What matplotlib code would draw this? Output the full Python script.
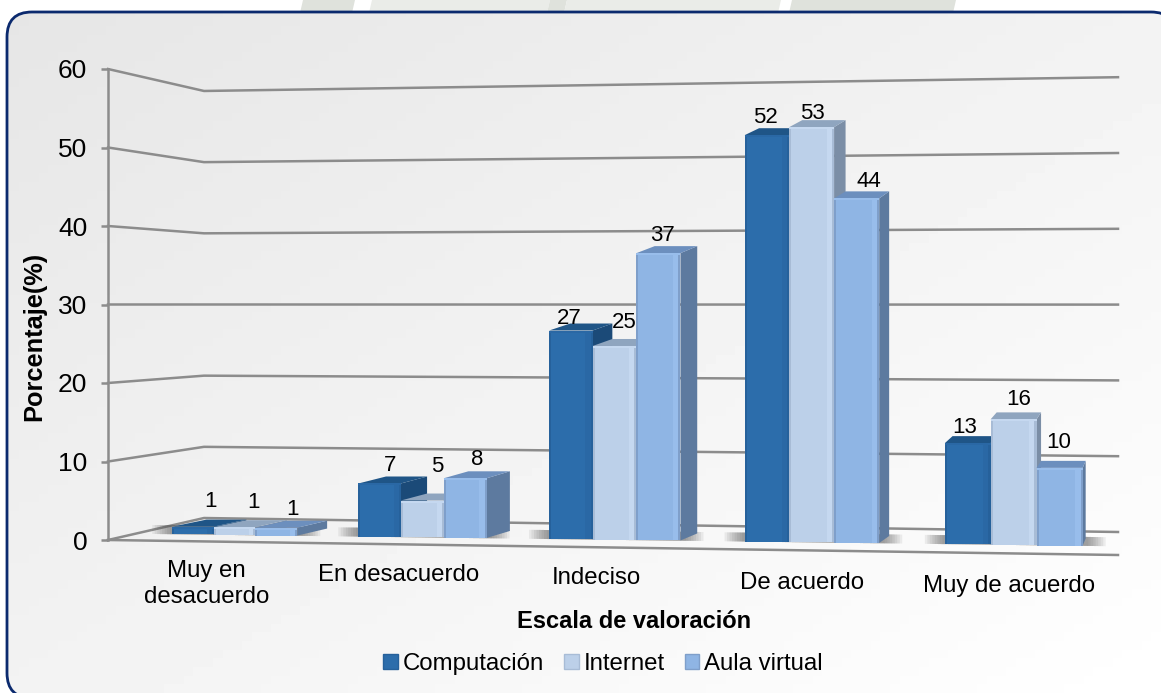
# -*- coding: utf-8 -*-
"""Barras con aspecto 3D: escala de valoracion por computacion, internet y aula virtual."""
import numpy as np
import matplotlib
matplotlib.use("Agg")
import matplotlib.pyplot as plt
from matplotlib.patches import PathPatch, Patch
from matplotlib.path import Path
from matplotlib.transforms import ScaledTranslation

plt.rcParams["font.family"] = ["Liberation Sans", "DejaVu Sans"]

categorias = ["Muy en\ndesacuerdo", "En desacuerdo", "Indeciso", "De acuerdo", "Muy de acuerdo"]
series = ["Computación", "Internet", "Aula virtual"]
computacion = [1, 6.8, 26.6, 51.8, 12.9]
internet = [1, 4.7, 24.7, 52.9, 16.0]
aula_virtual = [1, 7.6, 36.6, 43.9, 9.9]
yticks = [0, 10, 20, 30, 40, 50, 60]

# desplazamiento de cada etiqueta de valor respecto a la barra (px)
off_x = [[18, 19, 16], [11, 15, 12], [-2, 10, 4], [-1, 1, 12], [-3, 5, -1]]
off_y = [[-25, -25, -18], [-18, -34, -19], [-12, -23, -18], [-18, -14, -17], [-16, -20, -25]]
# posicion de las etiquetas de categoria (px)
cat_dx = [-28, -23, -18, -10, -4]
cat_cy = [584, 575, 578, 583, 586]

# (frente, lado, arriba, borde izq, brillo der)
col = [("#2c6dab", "#1b4a78", "#1f5587", "#26619b", "#2a68a5"),
       ("#bcd0e9", "#7b8ea6", "#8fa5bf", "#a8bcd6", "#c5d8f0"),
       ("#8fb5e4", "#5d7a9f", "#6c8fbe", "#7f9fca", "#98bdeb")]

DPI = 100
fig = plt.figure(figsize=(11.61, 6.93), dpi=DPI)

# fondo: panel redondeado con degradado
bg = fig.add_axes([0, 0, 1, 1])
bg.set_xlim(0, 1161); bg.set_ylim(693, 0); bg.axis("off")
for x0, x1, c in [(300, 352, "#dfe2dc"), (369, 547, "#eaece8"), (547, 564, "#dfe2dc"),
                  (564, 778, "#eaece8"), (789, 953, "#dfe2dc")]:
    bg.fill([x0, x1, x1 + 3, x0 + 3], [13, 13, 0, 0], color=c, lw=0)
L, T, R, B, r = 7, 12, 1176, 698, 25
verts = [(L, T + r), (L, T), (L + r, T), (R - r, T), (R, T), (R, T + r), (R, B - r), (R, B), (R - r, B),
         (L + r, B), (L, B), (L, B - r), (L, T + r)]
codes = [Path.MOVETO, Path.CURVE3, Path.CURVE3, Path.LINETO, Path.CURVE3, Path.CURVE3, Path.LINETO,
         Path.CURVE3, Path.CURVE3, Path.LINETO, Path.CURVE3, Path.CURVE3, Path.CLOSEPOLY]
# relleno casi transparente: sin relleno Agg recorta las curvas que salen del lienzo
panel = PathPatch(Path(verts, codes), fc=(1, 1, 1, 0.004), ec="#0b2a6e", lw=2, zorder=3)
bg.add_patch(panel)
yy, xx = np.mgrid[0:693:80j, 0:1161:120j]
grad = 0.90 + 0.10 * (xx / 1161 + yy / 693) / 2
im = bg.imshow(grad, extent=(0, 1161, 693, 0), cmap="gray", vmin=0, vmax=1, aspect="auto", zorder=2)
im.set_clip_path(panel)
bg.set_xlim(0, 1161); bg.set_ylim(693, 0)


# eje x: la perspectiva abre un poco las categorias hacia la derecha
def f(u):
    u = np.asarray(u, dtype=float)
    return 234.5 + 185.25 * u + 2.375 * u ** 2


def finv(px):
    px = np.asarray(px, dtype=float)
    return (-185.25 + np.sqrt(185.25 ** 2 + 4 * 2.375 * (px - 234.5))) / (2 * 2.375)


PXV = 471 / 60.0  # px por unidad de porcentaje


def val(py):
    return (540 - np.asarray(py, dtype=float)) / PXV


ax = fig.add_axes([108 / 1161, 1 - 540 / 693, 1010 / 1161, 471 / 693])
ax.patch.set_visible(False)
ax.set_xscale("function", functions=(f, finv))
ax.set_xlim(finv(108), finv(1118))
ax.set_ylim(0, 60)
for s in ["top", "right", "bottom"]:
    ax.spines[s].set_visible(False)
GRID = "#8c8c8c"
ax.spines["left"].set_color(GRID)
ax.spines["left"].set_linewidth(1.8)

# paredes
ux0, uc, ux1 = finv(108), finv(204), finv(1118)
for v in yticks:
    yb = val(518 - 7.117 * v)
    yr = val(532 - 7.58 * v)
    ax.plot([ux0, uc, ux1], [v, yb, yr], color=GRID, lw=1.8, zorder=1, clip_on=False)
ax.plot([ux0, ux1], [0, val(555)], color=GRID, lw=1.8, zorder=1, clip_on=False)

BW = 0.225


def base(px):
    return val(535 + 0.0128 * (px - 233))


def dep(px):
    return 40 - 0.0342 * px


z = 5
valores = [computacion, internet, aula_virtual]
for i in range(len(categorias)):
    # sombra sobre el piso
    xl, xr = f(i - 1.5 * BW), f(i + 1.5 * BW)
    for k in range(1, 9):
        a, b = xl - 2.5 * k, xr + 2.5 * k + 3
        ax.fill(finv([a, b, b, a]),
                [base(a), base(b), base(b) + 9 / PXV, base(a) + 9 / PXV],
                color="#505050", alpha=0.09, lw=0, zorder=2, clip_on=False)
    for j in range(3):
        v = valores[j][i]
        u0 = i + (j - 1.5) * BW
        u1 = u0 + BW
        x0, x1 = f(u0), f(u1)
        b0 = base(f(i + (j - 1) * BW))
        t0 = b0 + v
        d = 7 / PXV
        c = col[j]
        # lado y tapa
        ax.fill(finv([x1, x1 + dep(x1), x1 + dep(x1), x1]), [t0, t0 + d, b0 + d, b0],
                color=c[1], lw=0, zorder=z, clip_on=False)
        ax.fill(finv([x0, x1, x1 + dep(x1), x0 + dep(x0)]), [t0, t0, t0 + d, t0 + d],
                color=c[2], lw=0, zorder=z, clip_on=False)
        # frente y biseles
        ax.bar(u0, v, BW, bottom=b0, align="edge", color=c[0], lw=0, zorder=z + 1, clip_on=False)
        ax.bar(u0, v, 2 / 190, bottom=b0, align="edge", color=c[3], lw=0, zorder=z + 1, clip_on=False)
        ax.bar(u1 - 7 / 190, v, 5 / 190, bottom=b0, align="edge", color=c[4], lw=0, zorder=z + 1, clip_on=False)
        ax.bar(u1 - 2 / 190, v, 2 / 190, bottom=b0, align="edge", color=c[3], lw=0, zorder=z + 1, clip_on=False)
        ax.bar(u0, 2 / PXV, BW, bottom=t0 - 2 / PXV, align="edge", color=c[4], lw=0, zorder=z + 1, clip_on=False)
        ax.annotate("%.0f" % v, xy=(i + (j - 1) * BW, t0),
                    xytext=(off_x[i][j] * 0.72, -off_y[i][j] * 0.72), textcoords="offset points",
                    ha="center", va="center", fontsize=16, color="black", zorder=300,
                    annotation_clip=False)
        z += 2

# ejes y textos
ax.set_yticks(yticks)
ax.tick_params(axis="y", length=5, width=1.8, color=GRID, pad=10, labelsize=19)
ax.set_xticks(range(len(categorias)))
ax.set_xticklabels(categorias, fontsize=17.3, linespacing=1.25)
ax.xaxis.set_minor_locator(matplotlib.ticker.NullLocator())
ax.tick_params(axis="x", length=0, pad=0)
for lab, dx, cy in zip(ax.get_xticklabels(), cat_dx, cat_cy):
    lab.set_va("center")
    lab.set_transform(lab.get_transform() + ScaledTranslation(dx / DPI, -(cy - 540) / DPI, fig.dpi_scale_trans))

ax.set_xlabel("Escala de valoración", fontsize=17, fontweight="bold", va="center")
ax.xaxis.set_label_coords((634 - 108) / 1010, (540 - 622) / 471)
ax.set_ylabel("Porcentaje(%)", fontsize=18.3, fontweight="bold", va="center")
ax.yaxis.set_label_coords((34 - 108) / 1010, (540 - 336) / 471)

handles = [Patch(facecolor=col[j][0], edgecolor=col[j][3], label=series[j]) for j in range(3)]
fig.legend(handles=handles, loc="center", bbox_to_anchor=(603 / 1161, 1 - 664 / 693), ncols=3,
           frameon=False, fontsize=17.3, handlelength=0.6, handleheight=0.6,
           handletextpad=0.2, columnspacing=0.85, borderpad=0, borderaxespad=0)

fig.savefig("out.png", dpi=DPI)
